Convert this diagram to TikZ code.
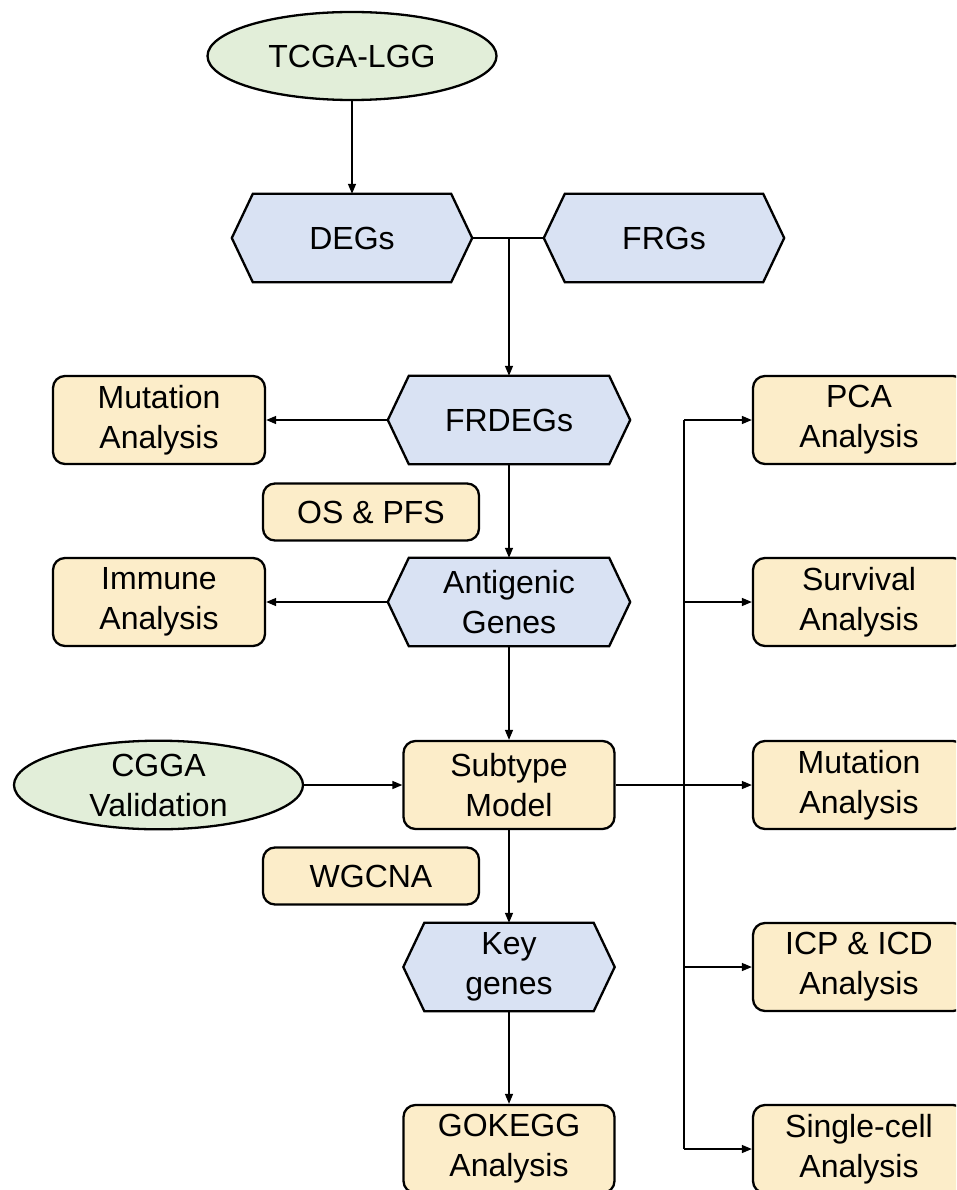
\documentclass[tikz,border=0pt]{standalone}
\usepackage{fontspec}
\setmainfont{Liberation Sans}
\usetikzlibrary{shapes.geometric,arrows.meta,backgrounds}
\definecolor{grn}{HTML}{E2EED9}
\definecolor{blu}{HTML}{D9E2F3}
\definecolor{yel}{HTML}{FCEDC9}
\begin{document}
\begin{tikzpicture}[x=1pt,y=-1pt,
  txt/.style={align=center,font=\fontsize{32}{40}\selectfont,inner sep=0pt},
  ybox/.style={txt,draw,line width=2.3pt,fill=yel,rounded corners=12pt,minimum height=88pt},
  ell/.style={txt,ellipse,draw,line width=2.3pt,fill=grn,minimum width=289pt,minimum height=88pt},
  hexn/.style={txt,minimum height=88pt},
  hexline/.style={draw,line width=2.3pt,fill=blu,line join=miter},
  conn/.style={line width=1.4pt},
  arr/.style={conn,-{Triangle[length=10pt,width=8pt]}}]
\useasboundingbox (0,0) rectangle (956,1190);
\clip (0,0) rectangle (956,1190);
% left/centre column
\node[ell] (tcga) at (352,56) {TCGA-LGG};
\node[hexn,minimum width=240pt] (degs) at (352,238) {DEGs};
\node[hexn,minimum width=240pt] (frgs) at (664,238) {FRGs};
\node[hexn,minimum width=242pt] (frdegs) at (509,420) {FRDEGs};
\node[hexn,minimum width=242pt] (antigen) at (509,602) {Antigenic\\Genes};
\node[hexn,minimum width=211pt] (keyg) at (509,967) {Key\\genes};
\node[ybox,minimum width=212pt] (mut1) at (159,420) {Mutation\\Analysis};
\node[ybox,minimum width=216pt,minimum height=57pt] (ospfs) at (371,512) {OS \& PFS};
\node[ybox,minimum width=212pt] (imm) at (159,602) {Immune\\Analysis};
\node[ybox,minimum width=211pt] (subtype) at (509,785) {Subtype\\Model};
\node[ell] (cgga) at (158.5,785) {CGGA\\Validation};
\node[ybox,minimum width=216pt,minimum height=57pt] (wgcna) at (371,876) {WGCNA};
\node[ybox,minimum width=211pt] (gokegg) at (509,1149) {GOKEGG\\Analysis};
% right column
\node[ybox,minimum width=212pt] (pca) at (859,420) {PCA\\Analysis};
\node[ybox,minimum width=212pt] (surv) at (859,602) {Survival\\Analysis};
\node[ybox,minimum width=212pt] (mut2) at (859,785) {Mutation\\Analysis};
\node[ybox,minimum width=212pt] (icp) at (859,967) {ICP \& ICD\\Analysis};
\node[ybox,minimum width=212pt] (single) at (859,1149) {Single-cell\\Analysis};
% hexagon outlines
\begin{pgfonlayer}{background}
\foreach \h in {degs,frgs,frdegs,antigen,keyg}{
  \path[hexline] ([xshift=21pt]\h.north west) -- ([xshift=-21pt]\h.north east) -- (\h.east)
    -- ([xshift=-21pt]\h.south east) -- ([xshift=21pt]\h.south west) -- (\h.west) -- cycle;
}
\end{pgfonlayer}
% connectors
\coordinate (j1) at (509,238);
\coordinate (vtop) at (684,420);
\coordinate (vbot) at (684,1149);
\draw[arr] (tcga.south) -- (degs.north);
\draw[conn] (degs.east) -- (frgs.west);
\draw[arr] (j1) -- (j1|-frdegs.north);
\draw[arr] (frdegs.west) -- (mut1.east);
\draw[arr] (frdegs.south) -- (antigen.north);
\draw[arr] (antigen.west) -- (imm.east);
\draw[arr] (antigen.south) -- (subtype.north);
\draw[arr] (cgga.east) -- (subtype.west);
\draw[arr] (subtype.south) -- (keyg.north);
\draw[arr] (keyg.south) -- (gokegg.north);
\draw[arr] (subtype.east) -- (mut2.west);
\draw[conn] (vtop) -- (vbot);
\draw[arr] (vtop) -- (pca.west);
\draw[arr] (vtop|-surv.west) -- (surv.west);
\draw[arr] (vtop|-icp.west) -- (icp.west);
\draw[arr] (vbot) -- (single.west);
\end{tikzpicture}
\end{document}
